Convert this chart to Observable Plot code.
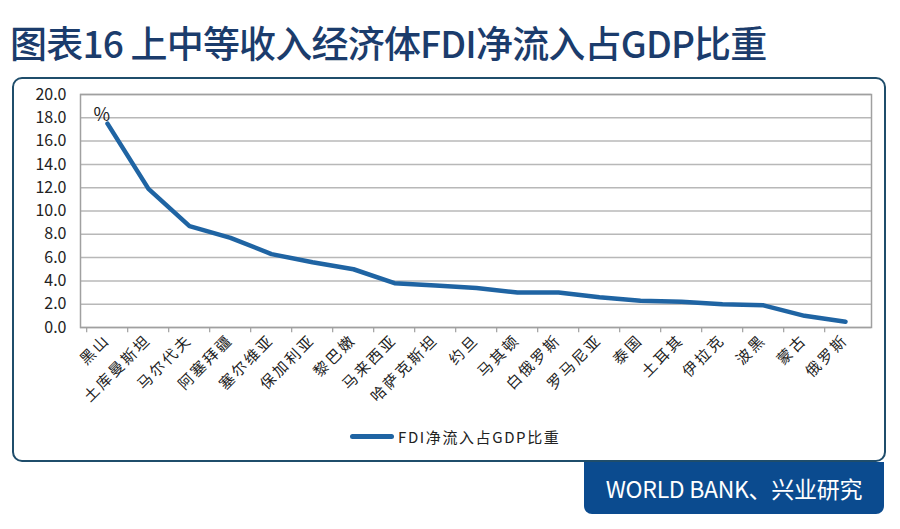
<!DOCTYPE html>
<html>
<head>
<meta charset="utf-8">
<script src="https://cdn.jsdelivr.net/npm/d3@7"></script>
<script src="https://cdn.jsdelivr.net/npm/@observablehq/plot@0.6"></script>
<style>
  html, body { margin: 0; padding: 0; background: #fff; }
  #page { position: relative; width: 900px; height: 529px; overflow: hidden; font-family: "Noto Sans CJK SC", "Noto Sans", sans-serif; }
  #title { position: absolute; left: 10px; top: 15px; font-size: 37px; font-weight: 500; color: #1b3c6c; letter-spacing: -0.8px; white-space: nowrap; }
  #box { position: absolute; left: 12px; top: 77px; width: 870px; height: 381px; border: 2px solid #1f4d6b; border-radius: 10px; }
  #chart { position: absolute; left: 0; top: 80px; }
  #legend { position: absolute; left: 350px; top: 426px; display: flex; align-items: center; font-size: 15px; letter-spacing: 1.6px; color: #222; }
  #legend .sw { width: 44px; height: 5px; border-radius: 3px; background: #1f64a3; margin-right: 4px; }
  #footer { position: absolute; left: 584px; top: 462px; width: 300px; height: 52px; background: #0b4b8f; border-radius: 0 0 8px 8px; color: #fff; font-size: 23px; display: flex; align-items: center; justify-content: center; letter-spacing: -0.3px; }
  #chart svg g[aria-label="x-axis tick label"] text { letter-spacing: 2.5px; }
</style>
</head>
<body>
<div id="page">
  <div id="title">图表16 上中等收入经济体FDI净流入占GDP比重</div>
  <div id="box"></div>
  <div id="chart"></div>
  <div id="legend"><div class="sw"></div><span>FDI净流入占GDP比重</span></div>
  <div id="footer">WORLD BANK、兴业研究</div>
</div>
<script>
const countries = ["黑山","土库曼斯坦","马尔代夫","阿塞拜疆","塞尔维亚","保加利亚","黎巴嫩","马来西亚","哈萨克斯坦","约旦","马其顿","白俄罗斯","罗马尼亚","泰国","土耳其","伊拉克","波黑","蒙古","俄罗斯"];
const fdiShare = [17.5, 11.9, 8.7, 7.7, 6.3, 5.6, 5.0, 3.8, 3.6, 3.4, 3.0, 3.0, 2.6, 2.3, 2.2, 2.0, 1.9, 1.0, 0.5];
const yTicks = [0, 2, 4, 6, 8, 10, 12, 14, 16, 18, 20];

const data = countries.map((c, i) => ({country: c, value: fdiShare[i]}));

const W = 900, mL = 80, mR = 29;
const step = (W - mL - mR) / countries.length;

const chart = Plot.plot({
  width: W,
  height: 340,
  marginTop: 14,
  marginBottom: 93,
  marginLeft: mL,
  marginRight: mR,
  style: {fontFamily: "'Noto Sans CJK SC', sans-serif", background: "transparent", color: "#222"},
  x: {type: "point", domain: countries, padding: 0.5, label: null},
  y: {domain: [0, 20], label: null},
  marks: [
    Plot.gridY(yTicks, {stroke: "#b8b8b8", strokeOpacity: 1, strokeWidth: 1.5}),
    Plot.frame({stroke: "#a0a0a0", strokeWidth: 1.5}),
    Plot.ruleX(countries, {x: d => d, dx: -step / 2, y1: 0, y2: -0.45, stroke: "#a0a0a0", strokeWidth: 1.2}),
    Plot.axisY(yTicks, {tickFormat: d => d.toFixed(1), tickSize: 0, tickPadding: 14, fontSize: 16, label: null}),
    Plot.axisX({tickRotate: -45, tickSize: 0, tickPadding: 10, fontSize: 15, label: null}),
    Plot.line(data, {x: "country", y: "value", stroke: "#1f64a3", strokeWidth: 4.5, strokeLinejoin: "round", strokeLinecap: "round"}),
    Plot.text(["%"], {frameAnchor: "top-left", dx: 13, dy: 14, fontSize: 18, fill: "#222"})
  ]
});
document.getElementById("chart").appendChild(chart);
</script>
</body>
</html>
